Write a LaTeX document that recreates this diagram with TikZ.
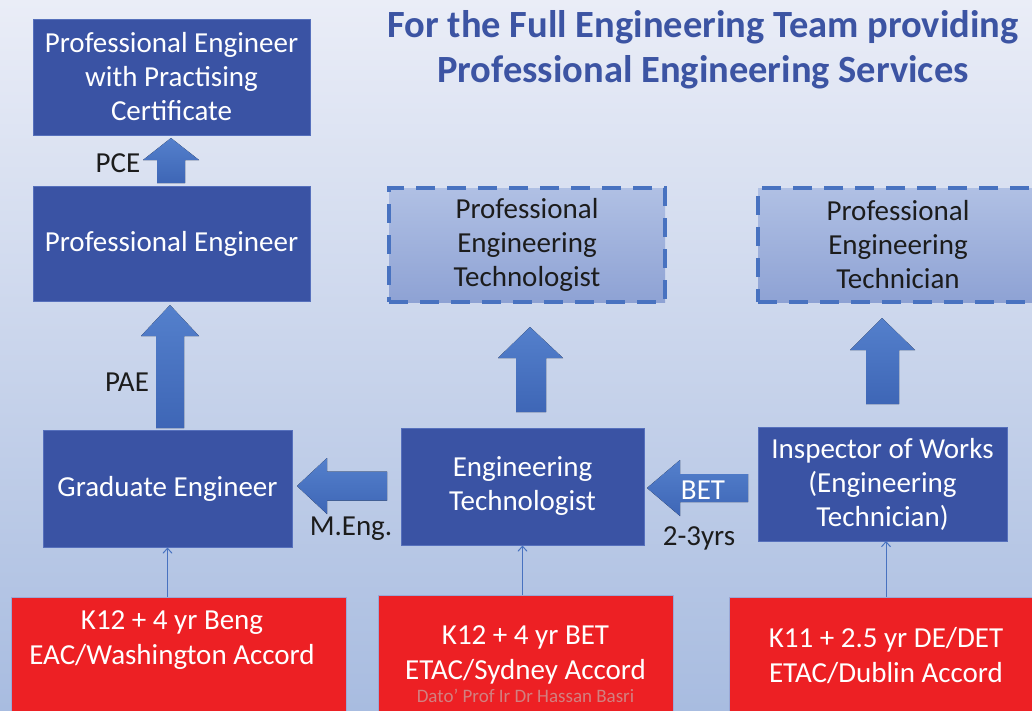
\documentclass[tikz,border=0pt]{standalone}
\usepackage{fontspec}
\setmainfont{Carlito}
\usetikzlibrary{arrows.meta,positioning}

\definecolor{bgtop}{RGB}{234,237,247}
\definecolor{bgbot}{RGB}{168,188,224}
\definecolor{boxblue}{RGB}{58,83,164}
\definecolor{boxline}{RGB}{86,112,188}
\definecolor{dashline}{RGB}{72,114,192}
\definecolor{pettop}{RGB}{176,192,228}
\definecolor{petbot}{RGB}{142,162,212}
\definecolor{arrtop}{RGB}{84,128,204}
\definecolor{arrbot}{RGB}{62,102,182}
\definecolor{titleblue}{RGB}{60,84,163}
\definecolor{accred}{RGB}{237,32,36}
\definecolor{signgray}{RGB}{210,128,128}
\definecolor{txt}{RGB}{28,28,28}

\tikzset{
  stage/.style={rectangle, fill=boxblue, draw=boxline, line width=1pt,
    text=white, align=center, font=\fontsize{29}{34}\selectfont},
  future/.style={rectangle, top color=pettop, bottom color=petbot,
    draw=dashline, line width=4pt, dash pattern=on 19pt off 12pt,
    text=txt, align=center, font=\fontsize{29}{34}\selectfont},
  accord/.style={rectangle, fill=accred, draw=boxline!60, line width=0.8pt},
  accordtxt/.style={text=white, align=center, font=\fontsize{29}{35}\selectfont},
  blockarr/.style={top color=arrtop, bottom color=arrbot},
  feed/.style={draw=dashline, line width=1pt, -{Straight Barb[length=5pt,width=9pt]}},
  tag/.style={text=txt, font=\fontsize{29}{32}\selectfont}
}

\begin{document}
\begin{tikzpicture}[x=1pt,y=-1pt]
    % Page and background
    \useasboundingbox (0,0) rectangle (1032,710);
    \clip (0,0) rectangle (1032,710);
    \shade[top color=bgtop, bottom color=bgbot] (0,0) rectangle (1032,710);

    % Heading
    \node[text=titleblue, align=center, font=\fontsize{38.5}{45}\selectfont\bfseries] (head)
        at (703,50) {For the Full Engineering Team providing\\Professional Engineering Services};

    % Engineer path
    \node[stage, minimum width=277pt, minimum height=116pt] (pepc) at (171.5,77)
        {Professional Engineer\\with Practising\\Certificate};
    \node[stage, minimum width=277pt, minimum height=115pt] (pe) at (171.5,243.5)
        {Professional Engineer};
    \node[stage, minimum width=249pt, minimum height=117pt] (grad) at (167.5,488.5)
        {Graduate Engineer};

    % Technologist and technician
    \node[stage, minimum width=243pt, minimum height=117pt] (etech) at (522.5,486.5)
        {Engineering\\Technologist};
    \node[stage, minimum width=249pt, minimum height=114pt] (iow) at (882.5,484)
        {Inspector of Works\\(Engineering\\Technician)};
    \node[future, minimum width=276pt, minimum height=114pt] (pet) at (527,245)
        {Professional\\Engineering\\Technologist};
    \node[future, minimum width=280pt, minimum height=114pt] (petn) at (898,245)
        {Professional\\Engineering\\Technician};

    % Accords
    \node[accord, anchor=north west, minimum width=335pt, minimum height=140pt] (beng) at (11,597) {};
    \node[accord, anchor=north west, minimum width=295pt, minimum height=140pt] (bet) at (378,595) {};
    \node[accord, anchor=north west, minimum width=314pt, minimum height=140pt] (det) at (729,597) {};
    \node[accordtxt] (bengtxt) at (172,640) {K12 + 4 yr Beng\\EAC/Washington Accord};
    \node[accordtxt] (bettxt) at (525.5,655) {K12 + 4 yr BET\\ETAC/Sydney Accord};
    \node[accordtxt] (dettxt) at (886,656) {K11 + 2.5 yr DE/DET\\ETAC/Dublin Accord};
    \node[text=signgray, font=\fontsize{19}{22}\selectfont, below=-2pt of bettxt] (sign)
        {Dato' Prof Ir Dr Hassan Basri};

    % Up arrows
    \fill[blockarr] (171,138) -- (199,160) -- (185,160) -- (185,183) -- (157,183)
        -- (157,160) -- (143,160) -- cycle;
    \fill[blockarr] (170,305) -- (199,336) -- (184,336) -- (184,428) -- (156,428)
        -- (156,336) -- (141,336) -- cycle;
    \fill[blockarr] (530,327) -- (563,358) -- (546,358) -- (546,412) -- (516,412)
        -- (516,358) -- (498,358) -- cycle;
    \fill[blockarr] (882,318) -- (915,350) -- (899,350) -- (899,404) -- (866,404)
        -- (866,350) -- (850,350) -- cycle;

    % Left arrows
    \fill[blockarr] (297,486) -- (327,458) -- (327,471.5) -- (387,471.5) -- (387,500.5)
        -- (327,500.5) -- (327,514) -- cycle;
    \fill[blockarr] (647,488) -- (680,460) -- (680,474) -- (748,474) -- (748,502)
        -- (680,502) -- (680,516) -- cycle;

    % Arrow labels
    \node[tag] (pce) at (118,163) {PCE};
    \node[tag] (pae) at (127,382) {PAE};
    \node[tag] (meng) at (351,529) {M.Eng.};
    \node[tag, text=white] (betlbl) at (703,490) {BET};
    \node[tag] (yrs) at (699,538) {2-3yrs};

    % Entry routes
    \draw[feed] (grad.south |- beng.north) -- (grad.south);
    \draw[feed] (etech.south |- bet.north) -- (etech.south);
    \draw[feed] (886,597) -- (886,541);
\end{tikzpicture}
\end{document}
